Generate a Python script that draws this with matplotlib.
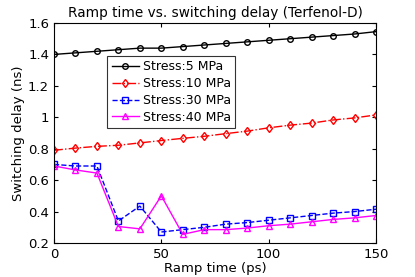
import numpy as np
import matplotlib.pyplot as plt

ramp = [0, 10, 20, 30, 40, 50, 60, 70, 80, 90, 100, 110, 120, 130, 140, 150]
s5 = [1.40, 1.41, 1.42, 1.43, 1.44, 1.44, 1.45, 1.46, 1.47, 1.48, 1.49, 1.50, 1.51, 1.52, 1.53, 1.545]
s10 = [0.79, 0.804, 0.815, 0.822, 0.837, 0.852, 0.866, 0.879, 0.896, 0.912, 0.933, 0.95, 0.963, 0.983, 0.996, 1.015]
s30 = [0.70, 0.69, 0.69, 0.34, 0.435, 0.27, 0.285, 0.30, 0.32, 0.33, 0.345, 0.36, 0.375, 0.39, 0.40, 0.415]
s40 = [0.69, 0.665, 0.645, 0.305, 0.29, 0.50, 0.255, 0.285, 0.285, 0.295, 0.31, 0.32, 0.335, 0.35, 0.36, 0.375]
labels = ['Stress:5 MPa', 'Stress:10 MPa', 'Stress:30 MPa', 'Stress:40 MPa']

plt.rcParams['font.family'] = 'DejaVu Sans'
fig = plt.figure(figsize=(4.15, 2.77), dpi=100)
ax = fig.add_axes([54/415, 1 - 243/277, 322/415, 220/277])

ax.plot(ramp, s5, '-', color='black', marker='o', mfc='none', ms=4, lw=1, label=labels[0])
ax.plot(ramp, s10, '-.', color='red', marker='d', mfc='none', ms=4.5, lw=1, label=labels[1])
ax.plot(ramp, s30, '--', color='blue', marker='s', mfc='none', ms=4.5, lw=1, label=labels[2])
ax.plot(ramp, s40, '-', color='magenta', marker='^', mfc='none', ms=4.5, lw=1, label=labels[3])

ax.set_xlim(0, 150)
ax.set_ylim(0.2, 1.6)
ax.set_xticks([0, 50, 100, 150])
ax.set_yticks([0.2, 0.4, 0.6, 0.8, 1.0, 1.2, 1.4, 1.6])
ax.set_yticklabels(['0.2', '0.4', '0.6', '0.8', '1', '1.2', '1.4', '1.6'])
ax.tick_params(direction='in', labelsize=9.5, top=True, right=True, length=3)
ax.set_xlabel('Ramp time (ps)', fontsize=9.5, labelpad=1)
ax.set_ylabel('Switching delay (ns)', fontsize=9.5, labelpad=2)
ax.set_title('Ramp time vs. switching delay (Terfenol-D)', fontsize=9.8, pad=4)

leg = ax.legend(loc='upper left', bbox_to_anchor=(0.165, 0.85), fontsize=9, frameon=True,
                fancybox=False, edgecolor='black', handlelength=2.2, borderpad=0.35,
                labelspacing=0.3, handletextpad=0.3, borderaxespad=0)
leg.get_frame().set_linewidth(0.8)

fig.savefig('out.png', dpi=100)
